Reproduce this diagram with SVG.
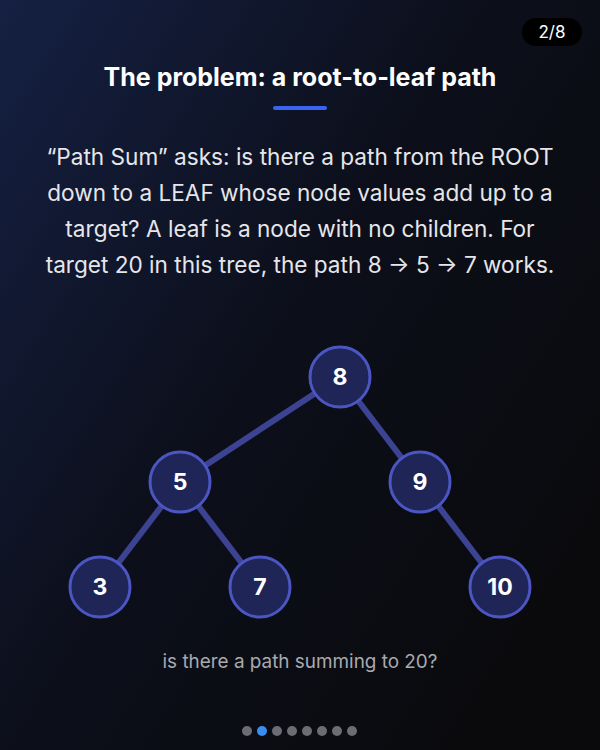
<svg xmlns="http://www.w3.org/2000/svg" width="600" height="750" viewBox="0 0 600 750">
<defs>
<linearGradient id="bg" x1="0" y1="0" x2="1" y2="0.8">
<stop offset="0" stop-color="#152043"/>
<stop offset="0.5" stop-color="#0c0f1a"/>
<stop offset="1" stop-color="#0a0a0c"/>
</linearGradient>
<style>
.edge{stroke:#3c4392;stroke-width:6;stroke-linecap:round}
.node circle{fill:#1f2557;stroke:#4b56c2;stroke-width:3}
.node text{fill:#ffffff;font-family:Inter,"Liberation Sans",sans-serif;font-weight:700;font-size:23px;text-anchor:middle;dominant-baseline:central}
.body{fill:#e6e6ea;font-family:Inter,"Liberation Sans",sans-serif;font-size:22.6px;text-anchor:middle}
.dot{fill:#6c6c72}
</style>
</defs>
<rect width="600" height="750" fill="url(#bg)"/>
<rect x="522" y="18" width="60" height="28" rx="14" fill="#000"/>
<text x="552" y="38" fill="#fff" font-family="Inter,'Liberation Sans',sans-serif" font-size="17" text-anchor="middle">2/8</text>
<text x="300" y="86" fill="#fff" font-family="Inter,'Liberation Sans',sans-serif" font-size="25" font-weight="700" text-anchor="middle">The problem: a root-to-leaf path</text>
<rect x="273" y="106" width="54" height="4" rx="2" fill="#3a63f2"/>
<text class="body" x="300" y="165">“Path Sum” asks: is there a path from the ROOT</text>
<text class="body" x="300" y="201">down to a LEAF whose node values add up to a</text>
<text class="body" x="300" y="237">target? A leaf is a node with no children. For</text>
<text class="body" x="300" y="273">target 20 in this tree, the path 8 → 5 → 7 works.</text>
<g id="connectors">
<line class="edge" x1="340" y1="377" x2="180" y2="482"/>
<line class="edge" x1="340" y1="377" x2="420" y2="482"/>
<line class="edge" x1="180" y1="482" x2="100" y2="587"/>
<line class="edge" x1="180" y1="482" x2="260" y2="587"/>
<line class="edge" x1="420" y1="482" x2="500" y2="587"/>
</g>
<g id="n8" class="node"><circle cx="340" cy="377" r="30"/><text x="340" y="377">8</text></g>
<g id="n5" class="node"><circle cx="180" cy="482" r="30"/><text x="180" y="482">5</text></g>
<g id="n9" class="node"><circle cx="420" cy="482" r="30"/><text x="420" y="482">9</text></g>
<g id="n3" class="node"><circle cx="100" cy="587" r="30"/><text x="100" y="587">3</text></g>
<g id="n7" class="node"><circle cx="260" cy="587" r="30"/><text x="260" y="587">7</text></g>
<g id="n10" class="node"><circle cx="500" cy="587" r="30"/><text x="500" y="587">10</text></g>
<text x="300" y="668" fill="#a9a9b0" font-family="Inter,'Liberation Sans',sans-serif" font-size="18.9" text-anchor="middle">is there a path summing to 20?</text>
<g id="dots">
<circle class="dot" cx="247" cy="731" r="5"/>
<circle cx="262" cy="731" r="5" fill="#3b8cf0"/>
<circle class="dot" cx="277" cy="731" r="5"/>
<circle class="dot" cx="292" cy="731" r="5"/>
<circle class="dot" cx="307" cy="731" r="5"/>
<circle class="dot" cx="322" cy="731" r="5"/>
<circle class="dot" cx="337" cy="731" r="5"/>
<circle class="dot" cx="352" cy="731" r="5"/>
</g>
</svg>
